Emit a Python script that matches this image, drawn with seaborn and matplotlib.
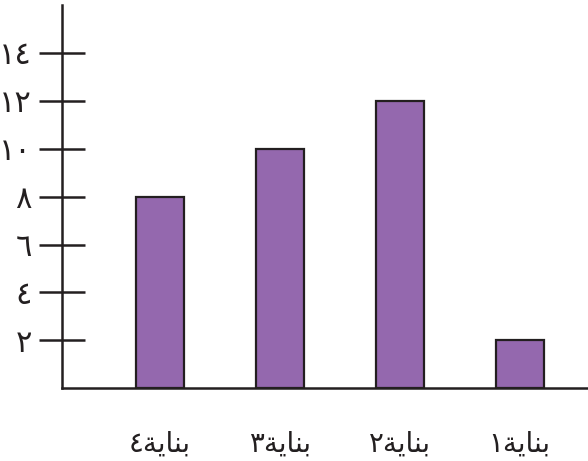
import matplotlib
matplotlib.use('Agg')
import matplotlib.pyplot as plt
import seaborn as sns
import pandas as pd

# data (logical order, building 1..4)
buildings = ['بناية١', 'بناية٢', 'بناية٣', 'بناية٤']
floors = [2, 12, 10, 8]
y_ticks = [2, 4, 6, 8, 10, 12, 14]
y_tick_labels = ['٢', '٤', '٦', '٨', '١٠', '١٢', '١٤']

# matplotlib has no arabic shaping, so pick presentation forms by hand
# char: (isolated, final, initial, medial) ; None = does not join to the next letter
FORMS = {
    'ب': ('\uFE8F', '\uFE90', '\uFE91', '\uFE92'),
    'ن': ('\uFEE5', '\uFEE6', '\uFEE7', '\uFEE8'),
    'ي': ('\uFEF1', '\uFEF2', '\uFEF3', '\uFEF4'),
    'ا': ('\uFE8D', '\uFE8E', None, None),
    'ة': ('\uFE93', '\uFE94', None, None),
}


def shape(word):
    letters = [c for c in word if c in FORMS]
    tail = ''.join(c for c in word if c not in FORMS)
    out = []
    for i, c in enumerate(letters):
        f = FORMS[c]
        prev_joins = i > 0 and FORMS[letters[i - 1]][2] is not None
        next_ok = i < len(letters) - 1 and f[2] is not None
        if prev_joins and next_ok:
            out.append(f[3])
        elif prev_joins:
            out.append(f[1])
        elif next_ok:
            out.append(f[2])
        else:
            out.append(f[0])
    # visual left-to-right: digit first, then the letters reversed
    return tail + ''.join(reversed(out))


df = pd.DataFrame({'building': [shape(b) for b in buildings], 'floors': floors})
df = df.iloc[::-1].reset_index(drop=True)  # right to left

sns.set_style('white')
plt.rcParams['font.family'] = ['DejaVu Sans']

ink = '#231F20'
fig = plt.figure(figsize=(5.88, 4.61), dpi=100)
ax = fig.add_axes([0.105, 0.158, 0.895, 0.831])

sns.barplot(data=df, x='building', y='floors', color='#9468AE', saturation=1,
            width=0.4, edgecolor=ink, linewidth=1.6, ax=ax)

ax.set_xlim(-0.82, 3.57)
ax.set_ylim(0, 16)
ax.set_yticks(y_ticks)
ax.set_yticklabels(y_tick_labels, fontsize=22, color=ink)
ax.tick_params(axis='y', left=True, direction='inout', length=33, width=1.8,
               color=ink, pad=5)
ax.tick_params(axis='x', bottom=False, length=0, pad=30, labelsize=20, labelcolor=ink)
ax.set_xlabel('')
ax.set_ylabel('')

sns.despine(ax=ax)
for s in ['left', 'bottom']:
    ax.spines[s].set_color(ink)
    ax.spines[s].set_linewidth(1.8)

fig.savefig('out.png', dpi=100)
